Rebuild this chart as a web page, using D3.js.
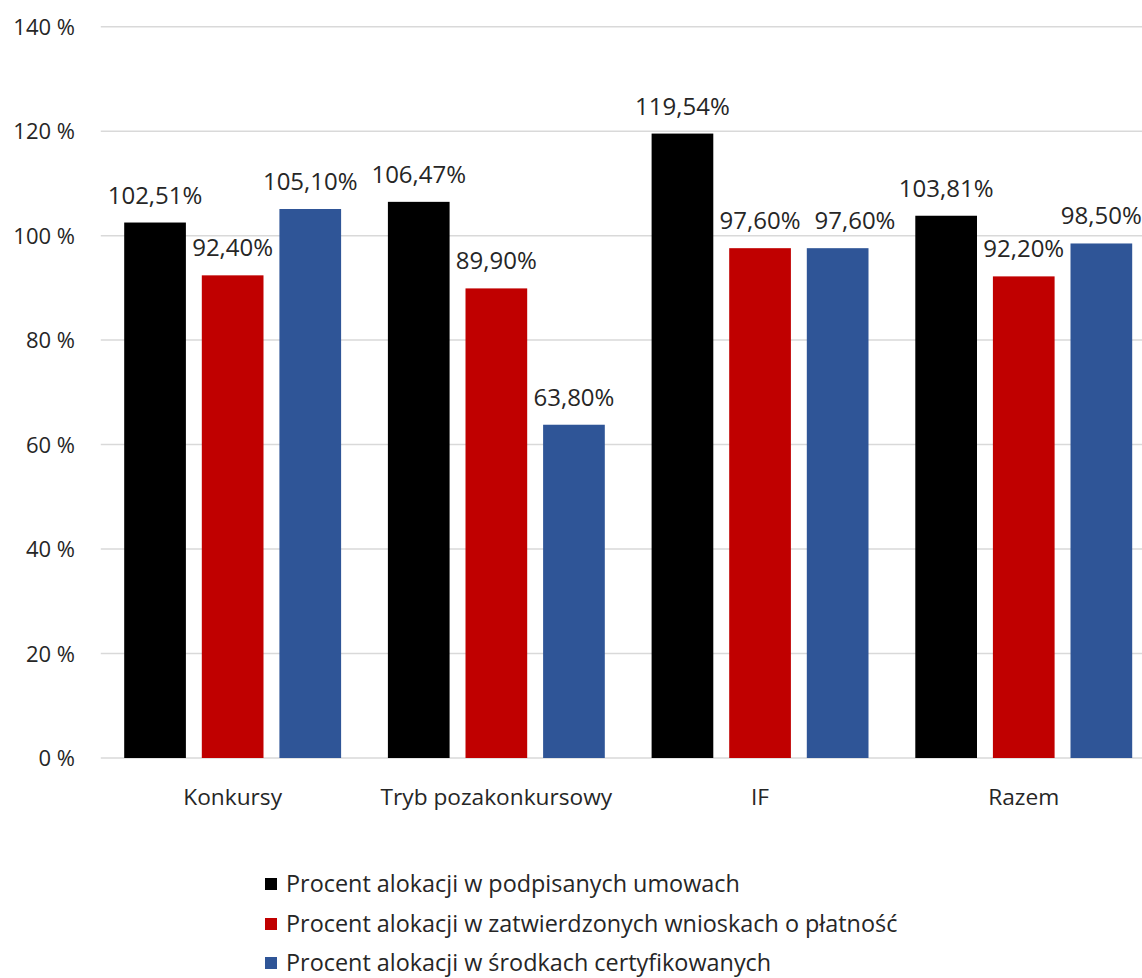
<!DOCTYPE html>
<html><head><meta charset="utf-8">
<script src="https://cdn.jsdelivr.net/npm/d3@7"></script>
<style>body{margin:0;background:#fff}svg{display:block}text{font-family:"Open Sans",sans-serif;fill:#262626}</style>
</head><body><svg id="c" width="1142" height="978"></svg>
<script>
const categories = ["Konkursy", "Tryb pozakonkursowy", "IF", "Razem"];
const seriesNames = ["Procent alokacji w podpisanych umowach", "Procent alokacji w zatwierdzonych wnioskach o płatność", "Procent alokacji w środkach certyfikowanych"];
const signedValues = [102.51, 106.47, 119.54, 103.81];
const approvedValues = [92.40, 89.90, 97.60, 92.20];
const certifiedValues = [105.10, 63.80, 97.60, 98.50];
const yTicks = [0, 20, 40, 60, 80, 100, 120, 140];
const colors = ["#000000", "#C00000", "#2F5597"];

const svg = d3.select("#c");
const series = [signedValues, approvedValues, certifiedValues];
const y = d3.scaleLinear().domain([0, 140]).range([758, 26.7]);
const x0 = d3.scaleBand().domain(categories).range([100.8, 1155.6]).paddingInner(0).paddingOuter(0);
const x1 = d3.scaleBand().domain([0,1,2]).range([23.4, x0.bandwidth()-23.4]).paddingInner(0.205).paddingOuter(0);

// gridlines
svg.append("g").selectAll("line").data(yTicks).join("line")
  .attr("x1", 100.8).attr("x2", 1142).attr("y1", d=>y(d)).attr("y2", d=>y(d))
  .attr("stroke", "#d9d9d9").attr("stroke-width", 1.5);

// y axis labels
const yAxis = d3.axisLeft(y).tickValues(yTicks).tickSize(0).tickPadding(0).tickFormat(d => d + " %");
const ya = svg.append("g").attr("transform", "translate(75,0)").call(yAxis);
ya.select(".domain").remove();
ya.selectAll("text").attr("font-size", 22).attr("font-family", null).attr("fill", "#262626").attr("dy", "0.35em");

// bars
const groups = svg.append("g").selectAll("g").data(categories).join("g")
  .attr("transform", d => `translate(${x0(d)},0)`);
groups.each(function(cat, ci) {
  const g = d3.select(this);
  let prevRight = -Infinity;
  series.forEach((vals, si) => {
    g.append("rect").attr("x", x1(si)).attr("width", x1.bandwidth())
      .attr("y", y(vals[ci])).attr("height", y(0) - y(vals[ci])).attr("fill", colors[si]);
    const t = g.append("text").attr("x", x1(si) + x1.bandwidth()/2).attr("y", y(vals[ci]) - 19)
      .attr("text-anchor", "middle").attr("font-size", 24)
      .text(vals[ci].toFixed(2).replace(".", ",") + "%");
    const bb = t.node().getBBox();
    const gapNeeded = 14;
    if (si > 0 && bb.x < prevRight + gapNeeded && Math.abs(y(vals[ci]) - y(series[si-1][ci])) < 25) {
      t.attr("x", prevRight + gapNeeded + bb.width/2);
    }
    const nb = t.node().getBBox();
    prevRight = nb.x + nb.width;
  });
});

// category labels
const xAxis = d3.axisBottom(x0).tickSize(0).tickPadding(0);
const xa = svg.append("g").attr("transform", "translate(0,797)").call(xAxis);
xa.select(".domain").remove();
xa.selectAll("text").attr("font-size", 22.7).attr("font-family", null).attr("fill", "#262626").attr("dy", "0.35em");

// legend
const legendY = [884, 924, 963];
const lg = svg.append("g").selectAll("g").data(seriesNames).join("g")
  .attr("transform", (d, i) => `translate(265,${legendY[i]})`);
lg.append("rect").attr("x", 0).attr("y", -6).attr("width", 12).attr("height", 12).attr("fill", (d, i) => colors[i]);
lg.append("text").attr("x", 21).attr("dy", "0.35em").attr("font-size", 23.4).text(d => d);
</script></body></html>
